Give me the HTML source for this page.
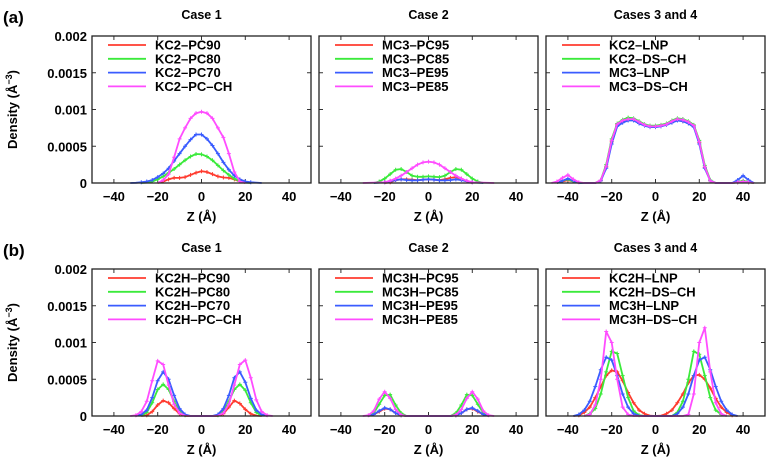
<!DOCTYPE html>
<html><head><meta charset="utf-8">
<style>
html,body{margin:0;padding:0;background:#fff;}
svg{display:block;font-family:"Liberation Sans",Arial,sans-serif;font-weight:bold;}
</style></head>
<body>
<svg id="fig" width="768" height="462" viewBox="0 0 768 462"></svg>
<script>
// density values in units of 1e-4 A^-3, pairs [z, density]
const a1_red=[[-20,0],[-17.5,0.2],[-15,0.5],[-12.5,0.7],[-10,0.7],[-7.5,0.8],[-5,1.1],[-2.5,1.4],[0,1.6],[2.5,1.5],[5,1.2],[7.5,0.9],[10,0.75],[12.5,0.7],[15,0.5],[17.5,0.2],[20,0]];
const a1_green=[[-27.5,0],[-25,0.05],[-22.5,0.2],[-20,0.5],[-17.5,0.9],[-15,1.4],[-12.5,1.9],[-10,2.5],[-7.5,3.1],[-5,3.6],[-2.5,3.95],[0,3.9],[2.5,3.6],[5,3.1],[7.5,2.4],[10,1.7],[12.5,1.1],[15,0.6],[17.5,0.25],[20,0.05],[22.5,0]];
const a1_blue=[[-32.5,0],[-30,0.03],[-27.5,0.1],[-25,0.2],[-22.5,0.4],[-20,0.8],[-17.5,1.3],[-15,2.0],[-12.5,3.0],[-10,4.0],[-7.5,5.0],[-5,5.9],[-2.5,6.6],[0,6.6],[2.5,6.0],[5,5.1],[7.5,4.0],[10,2.8],[12.5,1.8],[15,1.0],[17.5,0.5],[20,0.2],[22.5,0.1],[25,0.05],[27.5,0]];
const a1_mag=[[-20,0],[-17.5,0.4],[-15,1.2],[-12.5,3.5],[-10,6.0],[-7.5,7.5],[-5,8.8],[-2.5,9.5],[0,9.7],[2.5,9.5],[5,8.8],[7.5,7.5],[10,6.2],[12.5,4.0],[15,1.5],[17.5,0.2],[20,0]];

const a2_red=[[-20,0],[-17.5,0.1],[-15,0.4],[-12.5,0.5],[-10,0.5],[-7.5,0.45],[-5,0.4],[-2.5,0.45],[0,0.5],[2.5,0.45],[5,0.4],[7.5,0.5],[10,0.7],[12.5,0.8],[15,0.6],[17.5,0.2],[20,0]];
const a2_green=[[-25,0],[-22.5,0.2],[-20,0.6],[-17.5,1.2],[-15,1.8],[-12.5,1.9],[-10,1.5],[-7.5,1.0],[-5,0.85],[-2.5,0.85],[0,0.9],[2.5,0.85],[5,0.8],[7.5,1.0],[10,1.5],[12.5,1.9],[15,1.8],[17.5,1.2],[20,0.6],[22.5,0.2],[25,0]];
const a2_blue=[[-25,0],[-20,0.1],[-17.5,0.25],[-15,0.4],[-12.5,0.5],[-10,0.4],[-7.5,0.35],[-5,0.35],[-2.5,0.45],[0,0.5],[2.5,0.45],[5,0.35],[7.5,0.35],[10,0.4],[12.5,0.5],[15,0.4],[17.5,0.25],[20,0.1],[25,0]];
const a2_mag=[[-30,0],[-25,0.05],[-20,0.1],[-17.5,0.3],[-15,0.6],[-12.5,1.0],[-10,1.5],[-7.5,2.0],[-5,2.5],[-2.5,2.8],[0,2.9],[2.5,2.8],[5,2.5],[7.5,2.0],[10,1.5],[12.5,1.0],[15,0.6],[17.5,0.3],[20,0.1],[25,0.05],[30,0]];

const a3_red=[[-45,0],[-42.5,0.2],[-40,0.4],[-37.5,0.2],[-35,0],[-27.5,0],[-25,0.3],[-22.5,2.2],[-20,5.6],[-17.5,7.9],[-15,8.4],[-12.5,8.6],[-10,8.6],[-7.5,8.2],[-5,7.9],[-2.5,7.7],[0,7.7],[2.5,7.8],[5,8.0],[7.5,8.3],[10,8.6],[12.5,8.4],[15,8.2],[17.5,7.8],[20,5.5],[22.5,2.1],[25,0.3],[27.5,0],[35,0],[37.5,0.1],[40,0.3],[42.5,0.1],[45,0]];
const a3_green=[[-45,0],[-42.5,0.3],[-40,0.5],[-37.5,0.2],[-35,0],[-27.5,0],[-25,0.4],[-22.5,2.5],[-20,6.0],[-17.5,8.1],[-15,8.6],[-12.5,8.9],[-10,8.8],[-7.5,8.4],[-5,8.0],[-2.5,7.8],[0,7.8],[2.5,7.9],[5,8.1],[7.5,8.5],[10,8.8],[12.5,8.7],[15,8.4],[17.5,7.9],[20,5.8],[22.5,2.4],[25,0.4],[27.5,0],[35,0],[37.5,0.1],[40,0.3],[42.5,0.1],[45,0]];
const a3_blue=[[-45,0],[-42.5,0.3],[-40,0.6],[-37.5,0.3],[-35,0],[-27.5,0],[-25,0.3],[-22.5,2.0],[-20,5.3],[-17.5,7.7],[-15,8.2],[-12.5,8.5],[-10,8.5],[-7.5,8.1],[-5,7.8],[-2.5,7.6],[0,7.6],[2.5,7.7],[5,7.9],[7.5,8.2],[10,8.5],[12.5,8.4],[15,8.1],[17.5,7.6],[20,5.3],[22.5,2.0],[25,0.3],[27.5,0],[35,0],[37.5,0.4],[40,1.0],[42.5,0.4],[45,0]];
const a3_mag=[[-47.5,0],[-45,0.2],[-42.5,0.7],[-40,1.1],[-37.5,0.5],[-35,0.1],[-32.5,0],[-27.5,0],[-25,0.4],[-22.5,2.3],[-20,5.8],[-17.5,8.0],[-15,8.5],[-12.5,8.7],[-10,8.7],[-7.5,8.3],[-5,7.9],[-2.5,7.7],[0,7.7],[2.5,7.8],[5,8.0],[7.5,8.4],[10,8.7],[12.5,8.6],[15,8.3],[17.5,7.8],[20,5.6],[22.5,2.2],[25,0.3],[27.5,0],[35,0],[37.5,0.1],[40,0.2],[42.5,0.1],[45,0]];

const b1_red=[[-27.5,0],[-25,0.1],[-22.5,0.6],[-20,1.5],[-17.5,2.1],[-15,1.8],[-12.5,1.0],[-10,0.3],[-7.5,0],[7.5,0],[10,0.3],[12.5,1.2],[15,2.1],[17.5,1.7],[20,0.9],[22.5,0.3],[25,0.05],[27.5,0]];
const b1_green=[[-27.5,0],[-25,0.5],[-22.5,1.8],[-20,3.6],[-17.5,4.3],[-15,3.6],[-12.5,2.0],[-10,0.7],[-7.5,0.1],[-5,0],[5,0],[7.5,0.1],[10,0.7],[12.5,2.0],[15,3.6],[17.5,4.3],[20,3.5],[22.5,1.8],[25,0.5],[27.5,0]];
const b1_blue=[[-30,0],[-27.5,0.2],[-25,0.8],[-22.5,2.5],[-20,4.8],[-17.5,6.0],[-15,5.0],[-12.5,2.8],[-10,1.0],[-7.5,0.2],[-5,0],[5,0],[7.5,0.2],[10,1.0],[12.5,2.8],[15,5.2],[17.5,6.0],[20,4.6],[22.5,2.4],[25,0.8],[27.5,0.2],[30,0]];
const b1_mag=[[-32.5,0],[-30,0.1],[-27.5,0.6],[-25,2.0],[-22.5,4.8],[-20,7.5],[-17.5,7.0],[-15,4.2],[-12.5,1.6],[-10,0.4],[-7.5,0.05],[-5,0],[5,0],[7.5,0.05],[10,0.4],[12.5,1.6],[15,4.2],[17.5,7.0],[20,7.6],[22.5,5.2],[25,2.2],[27.5,0.6],[30,0.1],[32.5,0]];

const b2_red=[[-27.5,0],[-25,0.2],[-22.5,0.6],[-20,1.0],[-17.5,0.9],[-15,0.4],[-12.5,0.1],[-10,0],[10,0],[12.5,0.1],[15,0.4],[17.5,0.9],[20,1.0],[22.5,0.6],[25,0.2],[27.5,0]];
const b2_green=[[-27.5,0],[-25,0.4],[-22.5,1.6],[-20,2.8],[-17.5,2.9],[-15,1.5],[-12.5,0.4],[-10,0],[10,0],[12.5,0.4],[15,1.5],[17.5,2.9],[20,2.8],[22.5,1.6],[25,0.4],[27.5,0]];
const b2_blue=[[-27.5,0],[-25,0.2],[-22.5,0.7],[-20,1.1],[-17.5,0.9],[-15,0.4],[-12.5,0.1],[-10,0],[10,0],[12.5,0.1],[15,0.4],[17.5,0.9],[20,1.1],[22.5,0.7],[25,0.2],[27.5,0]];
const b2_mag=[[-30,0],[-27.5,0.1],[-25,0.7],[-22.5,2.3],[-20,3.3],[-17.5,2.4],[-15,0.9],[-12.5,0.15],[-10,0],[10,0],[12.5,0.15],[15,0.9],[17.5,2.4],[20,3.3],[22.5,2.3],[25,0.7],[27.5,0.1],[30,0]];

const b3_red=[[-37.5,0],[-35,0.1],[-32.5,0.5],[-30,1.2],[-27.5,2.5],[-25,4.0],[-22.5,5.5],[-20,6.2],[-17.5,6.0],[-15,4.8],[-12.5,3.2],[-10,1.8],[-7.5,0.8],[-5,0.3],[-2.5,0.05],[0,0],[2.5,0.05],[5,0.3],[7.5,0.8],[10,1.8],[12.5,3.0],[15,4.5],[17.5,5.5],[20,5.6],[22.5,5.0],[25,3.8],[27.5,2.4],[30,1.2],[32.5,0.5],[35,0.1],[37.5,0]];
const b3_green=[[-32.5,0],[-30,0.3],[-27.5,1.0],[-25,3.0],[-22.5,6.0],[-20,8.8],[-17.5,8.5],[-15,5.5],[-12.5,2.5],[-10,0.7],[-7.5,0.1],[-5,0],[7.5,0],[10,0.5],[12.5,2.0],[15,5.0],[17.5,8.8],[20,8.4],[22.5,5.5],[25,2.5],[27.5,0.8],[30,0.2],[32.5,0]];
const b3_blue=[[-37.5,0],[-35,0.2],[-32.5,0.8],[-30,2.0],[-27.5,4.0],[-25,6.3],[-22.5,8.0],[-20,7.6],[-17.5,5.5],[-15,3.0],[-12.5,1.2],[-10,0.3],[-7.5,0.05],[-5,0],[7.5,0],[10,0.3],[12.5,1.2],[15,3.0],[17.5,5.5],[20,7.6],[22.5,8.0],[25,6.3],[27.5,4.0],[30,2.0],[32.5,0.8],[35,0.2],[37.5,0]];
const b3_mag=[[-32.5,0],[-30,0.2],[-27.5,1.5],[-25,5.0],[-22.5,11.5],[-20,10.0],[-17.5,5.0],[-15,1.2],[-12.5,0.2],[-10,0],[12.5,0],[15,0.2],[17.5,3.0],[20,10.0],[22.5,12.0],[25,6.0],[27.5,1.8],[30,0.3],[32.5,0]];

const xTicks=[-40,-20,0,20,40];
const yTicks=[0,0.0005,0.001,0.0015,0.002];
const yTickLabels=["0","0.0005","0.001","0.0015","0.002"];
const titles=["Case 1","Case 2","Cases 3 and 4","Case 1","Case 2","Cases 3 and 4"];
const legends=[
 ["KC2\u2013PC90","KC2\u2013PC80","KC2\u2013PC70","KC2\u2013PC\u2013CH"],
 ["MC3\u2013PC95","MC3\u2013PC85","MC3\u2013PE95","MC3\u2013PE85"],
 ["KC2\u2013LNP","KC2\u2013DS\u2013CH","MC3\u2013LNP","MC3\u2013DS\u2013CH"],
 ["KC2H\u2013PC90","KC2H\u2013PC80","KC2H\u2013PC70","KC2H\u2013PC\u2013CH"],
 ["MC3H\u2013PC95","MC3H\u2013PC85","MC3H\u2013PE95","MC3H\u2013PE85"],
 ["KC2H\u2013LNP","KC2H\u2013DS\u2013CH","MC3H\u2013LNP","MC3H\u2013DS\u2013CH"]];
const seriesData=[[a1_red,a1_green,a1_blue,a1_mag],[a2_red,a2_green,a2_blue,a2_mag],[a3_red,a3_green,a3_blue,a3_mag],
 [b1_red,b1_green,b1_blue,b1_mag],[b2_red,b2_green,b2_blue,b2_mag],[b3_red,b3_green,b3_blue,b3_mag]];
const colors=["#ff3b2f","#3bea3b","#3a5cff","#ff4cff"];

const NS="http://www.w3.org/2000/svg";
const svg=document.getElementById('fig');
function mk(tag,attrs,parent){const e=document.createElementNS(NS,tag);for(const k in attrs)e.setAttribute(k,attrs[k]);(parent||svg).appendChild(e);return e;}
const lefts=[92,319,546], W=219, tops=[36,269], H=147;

for(let p=0;p<6;p++){
 const L=lefts[p%3], T=tops[Math.floor(p/3)];
 const g=mk('g',{});
 
 
 const xs=z=>L+(z+50)/100*W;
 const ys=d=>T+H-d/0.002*H;
 // title
 const t=mk('text',{x:L+W/2,y:T-17,'text-anchor':'middle','font-size':'12.5'},g);t.textContent=titles[p];
 
 
 // ticks
 xTicks.forEach(v=>{
  mk('line',{x1:xs(v),x2:xs(v),y1:T+H,y2:T+H-4,stroke:'#333','stroke-width':1},g);
  mk('line',{x1:xs(v),x2:xs(v),y1:T,y2:T+4,stroke:'#333','stroke-width':1},g);
  const tl=mk('text',{x:xs(v),y:T+H+18,'text-anchor':'middle','font-size':'13'},g);tl.textContent=(v<0?'\u2212'+(-v):v);
  
  
 });
 yTicks.forEach((v,i)=>{
  mk('line',{x1:L,x2:L+4,y1:ys(v),y2:ys(v),stroke:'#333','stroke-width':1},g);
  mk('line',{x1:L+W,x2:L+W-4,y1:ys(v),y2:ys(v),stroke:'#333','stroke-width':1},g);
  if(p%3===0){const yl=mk('text',{x:L-5,y:ys(v)+5,'text-anchor':'end','font-size':'13'},g);yl.textContent=yTickLabels[i];
   
   }
 });
 const xl=mk('text',{x:L+W/2,y:T+H+38,'text-anchor':'middle','font-size':'13'},g);xl.textContent='Z (\u00c5)';
 
 
 if(p%3===0){
  const yt=mk('text',{x:0,y:0,'text-anchor':'middle','font-size':'13',transform:'translate(17,'+(T+H/2)+') rotate(-90)'},g);
  yt.innerHTML='Density (\u00c5<tspan dy="-5" font-size="9">\u22123</tspan><tspan dy="5">)</tspan>';
  
  
 }
 // series
 seriesData[p].forEach((s,si)=>{
  const pts=s.map(d=>xs(d[0]).toFixed(1)+','+ys(d[1]*1e-4).toFixed(1)).join(' ');
  const pl=mk('polyline',{points:pts,fill:'none',stroke:colors[si],'stroke-width':1.8,'stroke-linejoin':'round'},g);
  
  
  s.forEach(d=>{if(d[1]>0.05){const cx=xs(d[0]),cy=ys(d[1]*1e-4);
   mk('path',{d:`M${cx-2},${cy}h4M${cx},${cy-2}v4`,stroke:colors[si],'stroke-width':1},g);}});
 });
 // legend
 legends[p].forEach((name,i)=>{
  const yy=T+9+i*13.8;
  const ln=mk('line',{x1:L+16,x2:L+54,y1:yy,y2:yy,stroke:colors[i],'stroke-width':1.8},g);
  
  
  const lt=mk('text',{x:L+63,y:yy+4.5,'font-size':'13'},g);lt.textContent=name;
  
  
 });
 const fr=mk('rect',{x:L,y:T,width:W,height:H,fill:'none',stroke:'#222','stroke-width':1.3},g);
 
 
}
const la=mk('text',{x:3,y:23,'font-size':'17'});la.textContent='(a)';


const lb=mk('text',{x:3,y:256,'font-size':'17'});lb.textContent='(b)';


</script>
</body></html>
